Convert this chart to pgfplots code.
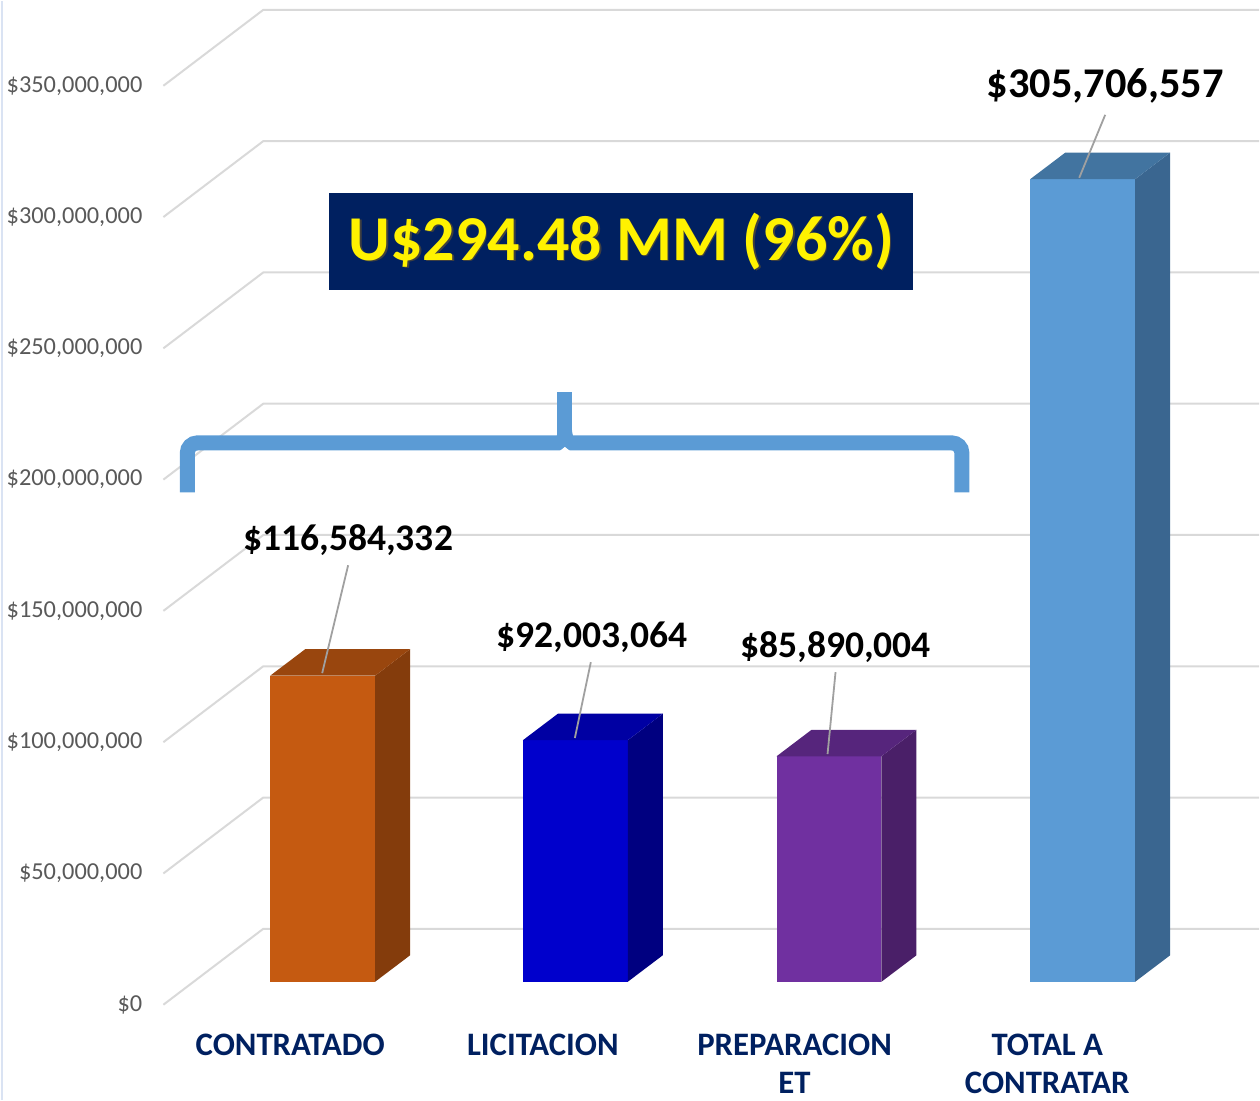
\documentclass[border=0pt]{standalone}
\usepackage{pgfplots}
\pgfplotsset{compat=1.18}
\usepackage{fontspec}
\setmainfont{Carlito}
\definecolor{gridc}{RGB}{217,217,217}
\definecolor{navy}{RGB}{0,32,96}
\definecolor{tickc}{RGB}{89,89,89}
\definecolor{oF}{RGB}{197,90,17}
\definecolor{oS}{RGB}{132,60,12}
\definecolor{oT}{RGB}{153,70,14}
\definecolor{bF}{RGB}{0,0,204}
\definecolor{bS}{RGB}{0,0,128}
\definecolor{bT}{RGB}{0,0,163}
\definecolor{pF}{RGB}{112,48,160}
\definecolor{pS}{RGB}{74,31,104}
\definecolor{pT}{RGB}{86,37,124}
\definecolor{lF}{RGB}{91,155,213}
\definecolor{lS}{RGB}{58,102,144}
\definecolor{lT}{RGB}{66,116,160}
\definecolor{bracec}{RGB}{91,155,213}
\definecolor{leader}{RGB}{160,160,160}
\definecolor{edgec}{RGB}{218,227,243}

% side and top faces of a 3D bar: #1 centre, #2 value (millions)
\newcommand{\sidetop}[4]{%
  \pgfmathsetmacro{\xa}{#1+52.5}%
  \pgfmathsetmacro{\xb}{#1+87.5}%
  \pgfmathsetmacro{\xc}{#1-52.5}%
  \pgfmathsetmacro{\xd}{#1-17.5}%
  \pgfmathsetmacro{\yt}{#2+10.08}%
  \addplot[fill=#3, draw=none, mark=none] coordinates {(\xa,0) (\xb,10.08) (\xb,\yt) (\xa,#2)} -- cycle;
  \addplot[fill=#4, draw=none, mark=none] coordinates {(\xc,#2) (\xa,#2) (\xb,\yt) (\xd,\yt)} -- cycle;
}

\begin{document}
\begin{tikzpicture}
\begin{axis}[
  width=630pt, height=550pt, scale only axis,
  xmin=0, xmax=1260, ymin=-44.89, ymax=373.55,
  axis line style={draw=none}, tick style={draw=none},
  xtick=\empty,
  ytick={-8.75,41.25,91.25,141.25,191.25,241.25,291.25,341.25},
  yticklabels={\$0,{\$50,000,000},{\$100,000,000},{\$150,000,000},{\$200,000,000},{\$250,000,000},{\$300,000,000},{\$350,000,000}},
  yticklabel style={anchor=east, xshift=74.5pt, font=\fontsize{12.2}{14}\selectfont, text=tickc},
  clip=false,
]
% chart border at left
\draw[edgec, line width=1pt] (axis cs:1,-44.89) -- (axis cs:1,373.55);
% 3D gridlines (front edge to back wall)
\draw[gridc, line width=1pt] (axis cs:163,-8.75) -- (axis cs:263,20.16) -- (axis cs:1260,20.16);
\draw[gridc, line width=1pt] (axis cs:163,41.25) -- (axis cs:263,70.16) -- (axis cs:1260,70.16);
\draw[gridc, line width=1pt] (axis cs:163,91.25) -- (axis cs:263,120.16) -- (axis cs:1260,120.16);
\draw[gridc, line width=1pt] (axis cs:163,141.25) -- (axis cs:263,170.16) -- (axis cs:1260,170.16);
\draw[gridc, line width=1pt] (axis cs:163,191.25) -- (axis cs:263,220.16) -- (axis cs:1260,220.16);
\draw[gridc, line width=1pt] (axis cs:163,241.25) -- (axis cs:263,270.16) -- (axis cs:1260,270.16);
\draw[gridc, line width=1pt] (axis cs:163,291.25) -- (axis cs:263,320.16) -- (axis cs:1260,320.16);
\draw[gridc, line width=1pt] (axis cs:163,341.25) -- (axis cs:263,370.16) -- (axis cs:1260,370.16);

% bars: front faces
\addplot[ybar, bar width=105, bar shift=0pt, fill=oF, draw=none, mark=none] coordinates {(322.5,116.584332)};
\addplot[ybar, bar width=105, bar shift=0pt, fill=bF, draw=none, mark=none] coordinates {(575.5,92.003064)};
\addplot[ybar, bar width=105, bar shift=0pt, fill=pF, draw=none, mark=none] coordinates {(829.5,85.890004)};
\addplot[ybar, bar width=105, bar shift=0pt, fill=lF, draw=none, mark=none] coordinates {(1083.5,305.706557)};
% side and top faces
\sidetop{322.5}{116.584332}{oS}{oT}
\sidetop{575.5}{92.003064}{bS}{bT}
\sidetop{829.5}{85.890004}{pS}{pT}
\sidetop{1083.5}{305.706557}{lS}{lT}

% leader lines
\draw[leader, line width=0.9pt] (axis cs:348,158.63) -- (axis cs:322,117.54);
\draw[leader, line width=0.9pt] (axis cs:591,121.73) -- (axis cs:575,92.82);
\draw[leader, line width=0.9pt] (axis cs:836,117.92) -- (axis cs:828,86.73);
\draw[leader, line width=0.9pt] (axis cs:1106,330.19) -- (axis cs:1080,306.22);

% value labels
\node[font=\bfseries\fontsize{18.8}{20}\selectfont] at (axis cs:348,168.14) {\$116,584,332};
\node[font=\bfseries\fontsize{18.8}{20}\selectfont] at (axis cs:592,131.24) {\$92,003,064};
\node[font=\bfseries\fontsize{18.8}{20}\selectfont] at (axis cs:836,127.43) {\$85,890,004};
\node[font=\bfseries\fontsize{21.2}{22}\selectfont] at (axis cs:1106,341.22) {\$305,706,557};

% brace
\draw[bracec, line width=7.5pt, rounded corners=5pt] (axis cs:187,186.40) -- (axis cs:187,205.23) -- (axis cs:962.5,205.23) -- (axis cs:962.5,186.40);
\draw[bracec, line width=7.5pt] (axis cs:565,205.23) -- (axis cs:565,224.44);
\fill[bracec] (axis cs:551,205.23) .. controls (axis cs:557,206.5) and (axis cs:558,208.5) .. (axis cs:558,211.5) -- (axis cs:572,211.5) .. controls (axis cs:572,208.5) and (axis cs:573,206.5) .. (axis cs:579,205.23) -- cycle;
\fill[white] (axis cs:559,201.9) -- (axis cs:565,203.7) -- (axis cs:571,201.9) -- cycle;

% total box
\node[fill=navy, minimum width=292.5pt, minimum height=48.5pt, inner sep=0pt] at (axis cs:621.5,282.07) {};
\node[text=black!75, font=\bfseries\fontsize{32}{36}\selectfont] at (axis cs:623,281.5) {U\$294.48 MM (96\%)};
\node[text=yellow, font=\bfseries\fontsize{32}{36}\selectfont] at (axis cs:621.5,282.07) {U\$294.48 MM (96\%)};

% category labels
\node[anchor=base, text=navy, font=\bfseries\fontsize{16.4}{18}\selectfont] at (axis cs:290,-28.04) {CONTRATADO};
\node[anchor=base, text=navy, font=\bfseries\fontsize{16.4}{18}\selectfont] at (axis cs:543,-28.04) {LICITACION};
\node[anchor=base, text=navy, font=\bfseries\fontsize{16.4}{18}\selectfont] at (axis cs:795,-28.04) {PREPARACION};
\node[anchor=base, text=navy, font=\bfseries\fontsize{16.4}{18}\selectfont] at (axis cs:795,-42.6) {ET};
\node[anchor=base, text=navy, font=\bfseries\fontsize{16.4}{18}\selectfont] at (axis cs:1048,-28.04) {TOTAL A};
\node[anchor=base, text=navy, font=\bfseries\fontsize{16.4}{18}\selectfont] at (axis cs:1048,-42.6) {CONTRATAR};
\end{axis}
\end{tikzpicture}
\end{document}
